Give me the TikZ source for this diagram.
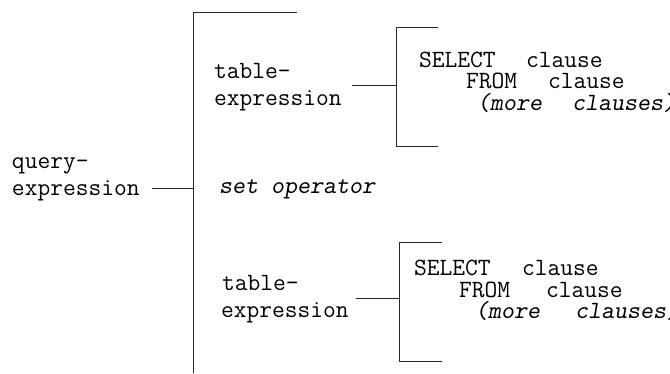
\documentclass[tikz,border=0pt]{standalone}
\begin{document}
\begin{tikzpicture}[x=1pt,y=-1pt,
  lbl/.style={anchor=base west,inner sep=0pt,outer sep=0pt,text height=14pt,text depth=4pt,font=\fontsize{24.8}{24.8}\selectfont\ttfamily},
  itl/.style={lbl,font=\fontsize{24.8}{24.8}\selectfont\ttfamily\slshape},
  ln/.style={line width=1pt,draw=black!85}]
\useasboundingbox (0,0) rectangle (670,373);
\clip (0,0) rectangle (670,373);
% query-expression
\node[lbl] (q1) at (12,168) {query-};
\node[lbl] (q2) at (12,195) {expression};
\coordinate (qc) at (152,188);
\coordinate (mtop) at (193,12);
\coordinate (mtopr) at (297,12);
\coordinate (mbot) at (193,373);
\draw[ln] (mtopr) -- (mtop) -- (mbot);
\draw[ln] (qc) -- (qc -| mtop);
% set operator
\node[itl] (setop) at (219,193) {set operator};
% first table-expression
\node[lbl] (t1a) at (214,78) {table-};
\node[lbl] (t1b) at (214,105) {expression};
\coordinate (c1) at (352,85);
\coordinate (b1t) at (396,27);
\coordinate (b1b) at (396,146);
\coordinate (b1tr) at (438,27);
\coordinate (b1br) at (438,146);
\draw[ln] (c1) -- (c1 -| b1t);
\draw[ln] (b1tr) -- (b1t) -- (b1b) -- (b1br);
\node[lbl] (s1a) at (419,67) {SELECT};
\node[lbl] (s1b) at (526,67) {clause};
\node[lbl] (f1a) at (466,88) {FROM};
\node[lbl] (f1b) at (548,88) {clause};
\node[itl] (m1a) at (477,110) {(more};
\node[itl] (m1b) at (572,110) {clauses)};
% second table-expression
\node[lbl] (t2a) at (222,290) {table-};
\node[lbl] (t2b) at (221,317) {expression};
\coordinate (c2) at (356,298);
\coordinate (b2t) at (399,242);
\coordinate (b2b) at (399,361);
\coordinate (b2tr) at (442,242);
\coordinate (b2br) at (442,361);
\draw[ln] (c2) -- (c2 -| b2t);
\draw[ln] (b2tr) -- (b2t) -- (b2b) -- (b2br);
\node[lbl] (s2a) at (414,275) {SELECT};
\node[lbl] (s2b) at (522,275) {clause};
\node[lbl] (f2a) at (459,297) {FROM};
\node[lbl] (f2b) at (546,297) {clause};
\node[itl] (m2a) at (475,318) {(more};
\node[itl] (m2b) at (575,318) {clauses)};
\end{tikzpicture}
\end{document}
